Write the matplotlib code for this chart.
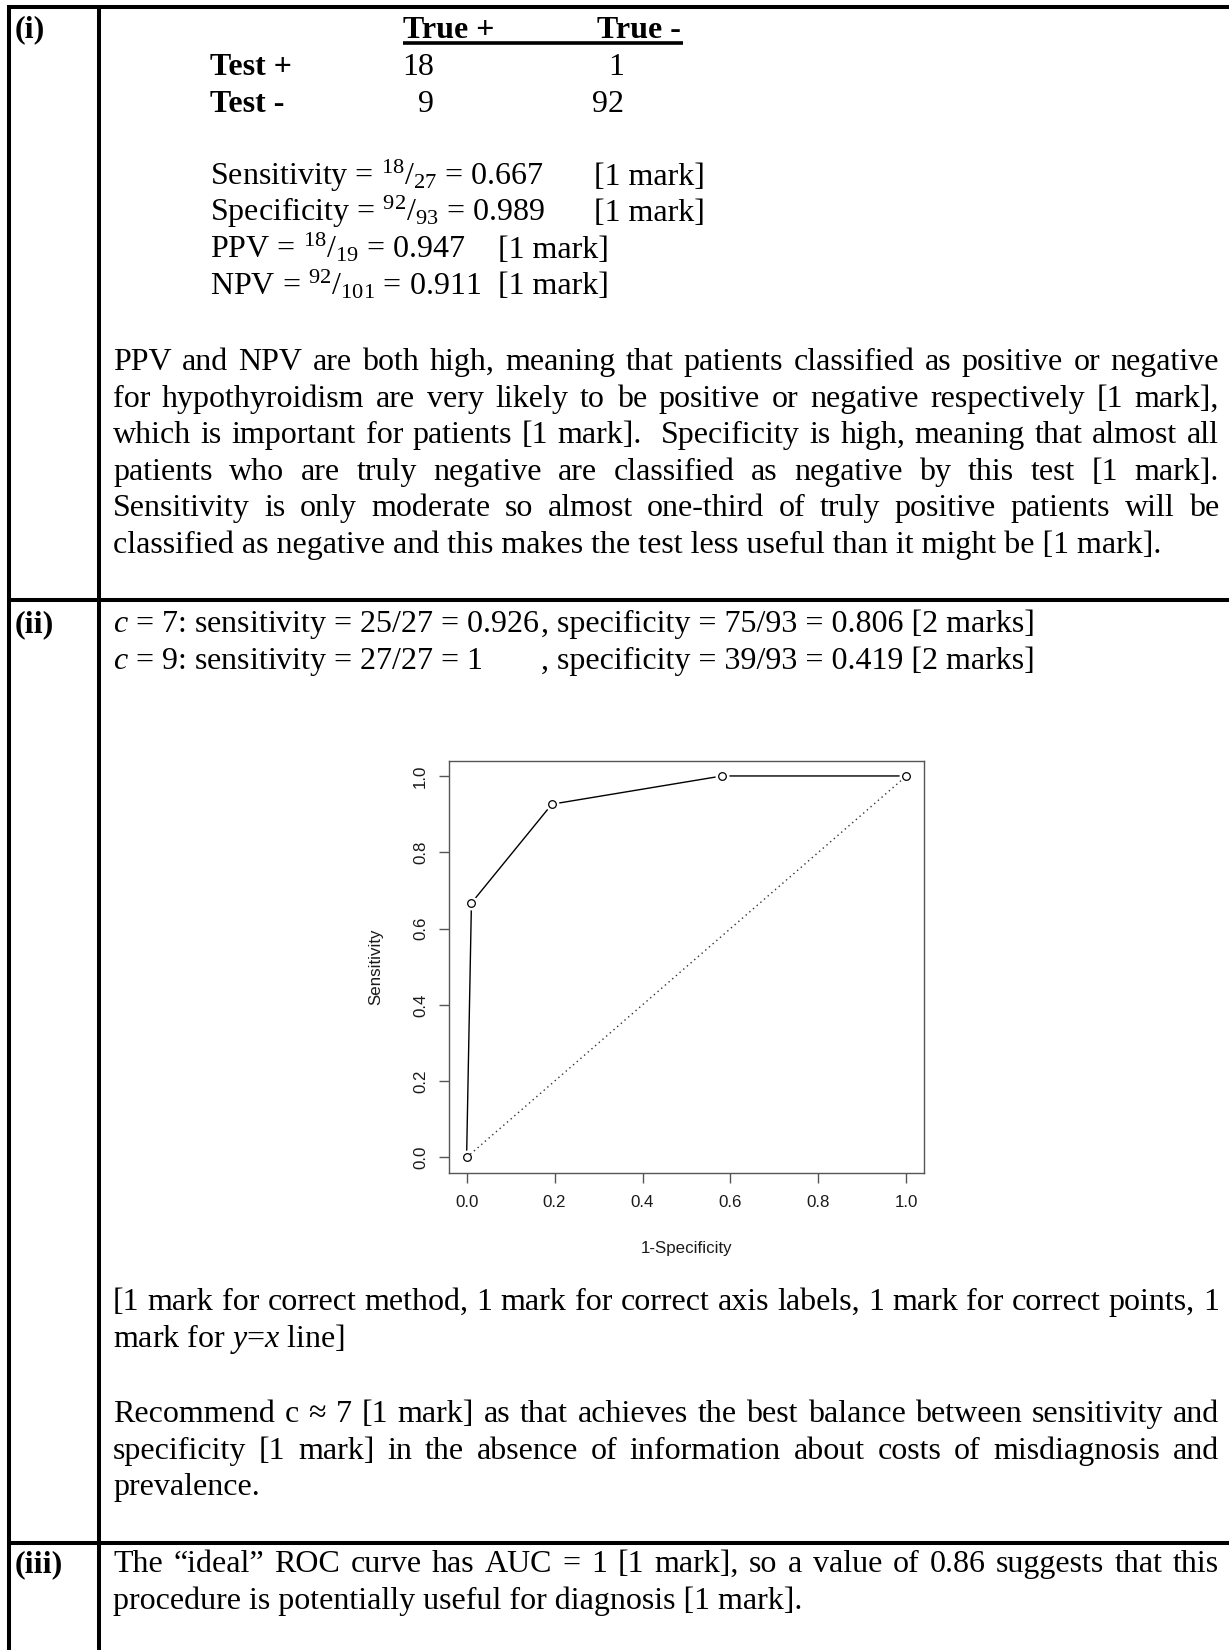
import matplotlib.pyplot as plt
from matplotlib.lines import Line2D

# ROC points
fpr = [0.0, 0.011, 0.194, 0.581, 1.0]    # 1-Specificity
tpr = [0.0, 0.667, 0.926, 1.0, 1.0]      # Sensitivity
diag_x = [0.0, 1.0]
diag_y = [0.0, 1.0]
axis_ticks = [0.0, 0.2, 0.4, 0.6, 0.8, 1.0]
tick_labels = ['0.0', '0.2', '0.4', '0.6', '0.8', '1.0']

# 2x2 table of part (i)
col_heads = ['True +', 'True -']
row_heads = ['Test +', 'Test -']
counts = [[18, 1], [9, 92]]

stats = ['Sensitivity = $^{18}/_{27}$ = 0.667',
         'Specificity = $^{92}/_{93}$ = 0.989',
         'PPV = $^{18}/_{19}$ = 0.947',
         'NPV = $^{92}/_{101}$ = 0.911']
stat_marks = ['[1 mark]', '[1 mark]', '[1 mark]', '[1 mark]']

para_i = ['PPV and NPV are both high, meaning that patients classified as positive or negative',
          'for hypothyroidism are very likely to be positive or negative respectively [1 mark],',
          'which is important for patients [1 mark].  Specificity is high, meaning that almost all',
          'patients who are truly negative are classified as negative by this test [1 mark].',
          'Sensitivity is only moderate so almost one-third of truly positive patients will be',
          'classified as negative and this makes the test less useful than it might be [1 mark].']

cut_lines = [('$c$ = 7: sensitivity = 25/27 = 0.926', ', specificity = 75/93 = 0.806 [2 marks]'),
             ('$c$ = 9: sensitivity = 27/27 = 1', ', specificity = 39/93 = 0.419 [2 marks]')]

caption = ['[1 mark for correct method, 1 mark for correct axis labels, 1 mark for correct points, 1',
           'mark for $y$=$x$ line]']

recommend = ['Recommend c \u2248 7 [1 mark] as that achieves the best balance between sensitivity and',
             'specificity [1 mark] in the absence of information about costs of misdiagnosis and',
             'prevalence.']

para_iii = ['The \u201cideal\u201d ROC curve has AUC = 1 [1 mark], so a value of 0.86 suggests that this',
            'procedure is potentially useful for diagnosis [1 mark].']

W, H = 1229, 1650
FS = 23
LINE = 36.6
BODY_X = 113
RIGHT_X = 1219
SERIF = ['Liberation Serif', 'DejaVu Serif']

plt.rcParams['mathtext.fontset'] = 'custom'
plt.rcParams['mathtext.rm'] = 'Liberation Serif'
plt.rcParams['mathtext.it'] = 'Liberation Serif:italic'
plt.rcParams['mathtext.bf'] = 'Liberation Serif:bold'

fig = plt.figure(figsize=(W / 100, H / 100), dpi=100)
rend = fig.canvas.get_renderer()


def put(x, y, s, size=FS, **kw):
    # x, y in pixels from the top-left corner, y is the baseline
    kw.setdefault('family', SERIF)
    return fig.text(x / W, 1 - y / H, s, fontsize=size, va='baseline', **kw)


def wid(t):
    return t.get_window_extent(rend).width


def justify(y, line, x0=BODY_X, x1=RIGHT_X):
    # split on single spaces so a double space counts as two gaps
    tokens = line.split(' ')
    ts = [put(x0, y, w) if w else None for w in tokens]
    ws = [wid(t) if t is not None else 0 for t in ts]
    gap = (x1 - x0 - sum(ws)) / (len(ws) - 1)
    x = x0
    for t, w in zip(ts, ws):
        if t is not None:
            t.set_x(x / W)
        x += w + gap


def paragraph(lines, y0):
    for i, line in enumerate(lines):
        y = y0 + i * LINE
        if i < len(lines) - 1:
            justify(y, line)
        else:
            put(BODY_X, y, line)


def rule(x0, y0, x1, y1, lw=2.9):
    fig.add_artist(Line2D([x0 / W, x1 / W], [1 - y0 / H, 1 - y1 / H],
                          color='black', lw=lw, solid_capstyle='butt'))


# table frame
rule(7, 6.8, W, 6.8)
rule(9, 5, 9, H)
rule(98.7, 5, 98.7, H)
rule(7, 599.5, W, 599.5)
rule(7, 1543.3, W, 1543.3)

# row labels
put(15, 37, '(i)', weight='bold')
put(15, 632, '(ii)', weight='bold')
put(15, 1572, '(iii)', weight='bold')

# part (i): 2x2 table
put(403, 38, col_heads[0], weight='bold')
put(597, 38, col_heads[1], weight='bold')
rule(403, 42.5, 683, 42.5, lw=2.6)
for i, head in enumerate(row_heads):
    y = 75 + i * 37
    put(210, y, head, weight='bold')
    put(434, y, str(counts[i][0]), ha='right')
    put(624, y, str(counts[i][1]), ha='right')

for i, (s, m) in enumerate(zip(stats, stat_marks)):
    y = 185 + i * 36.4
    put(210, y, s)
    put(594 if i < 2 else 498, y, m)

paragraph(para_i, 370)

# part (ii)
comma_x = None
for i, (a, b) in enumerate(cut_lines):
    y = 632 + i * LINE
    t = put(BODY_X, y, a)
    if comma_x is None:
        comma_x = BODY_X + wid(t) + 1
    put(comma_x, y, b)

# ROC plot
ax = fig.add_axes([449 / W, 1 - 1172.7 / H, 475 / W, 412 / H])
ax.plot(fpr, tpr, color='black', lw=1.0, zorder=2)
ax.plot(fpr, tpr, 'o', ms=10, mfc='white', mec='none', zorder=3)
ax.plot(diag_x, diag_y, color='#333333', lw=1.0, ls=(0, (1, 2.5)), zorder=4)
ax.plot(fpr, tpr, 'o', ms=5.5, mfc='white', mec='black', mew=0.9, zorder=5)
ax.set_xlim(-0.04, 1.04)
ax.set_ylim(-0.04, 1.04)
for sp in ax.spines.values():
    sp.set_color('#555555')
    sp.set_linewidth(1.0)
ax.set_xticks(axis_ticks)
ax.set_yticks(axis_ticks)
ax.set_xticklabels(tick_labels, fontsize=12.2, family='Liberation Sans', color='#1a1a1a')
ax.set_yticklabels(tick_labels, fontsize=12.2, family='Liberation Sans', color='#1a1a1a')
for lab in ax.get_yticklabels():
    lab.set_rotation(90)
    lab.set_va('center')
ax.tick_params(axis='both', direction='out', length=7.2, width=1.0, color='#555555')
ax.tick_params(axis='x', pad=9)
ax.tick_params(axis='y', pad=8)
ax.set_xlabel('1-Specificity', fontsize=12.2, family='Liberation Sans', color='#1a1a1a')
ax.set_ylabel('Sensitivity', fontsize=12.2, family='Liberation Sans', color='#1a1a1a')
ax.xaxis.set_label_coords(0.5, -0.185)
ax.xaxis.label.set_va('center')
ax.yaxis.set_label_coords(-0.1537, 0.5)
ax.yaxis.label.set_va('center')

paragraph(caption, 1310)
paragraph(recommend, 1422)

# part (iii)
paragraph(para_iii, 1572)

fig.savefig('out.png', dpi=100, facecolor='white')
